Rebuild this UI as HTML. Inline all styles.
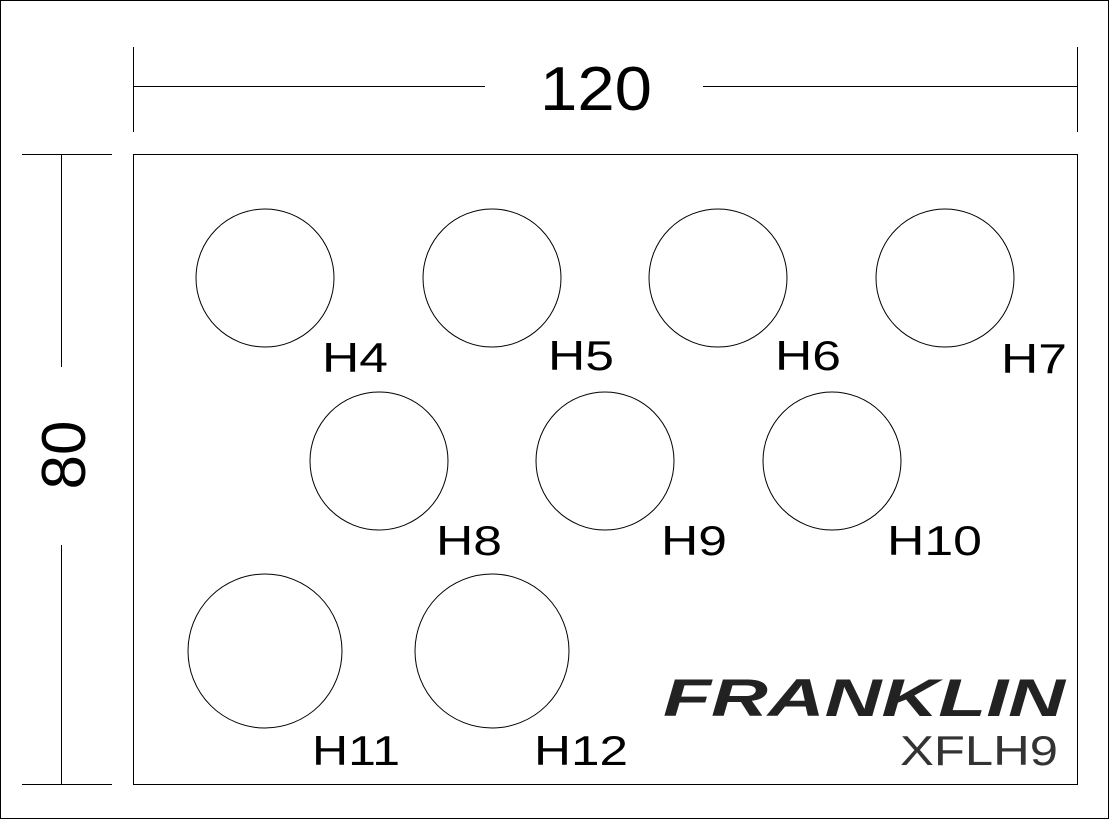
<!DOCTYPE html>
<html><head><meta charset="utf-8"><style>
html,body{margin:0;padding:0;background:#fff;}
svg{display:block}
</style></head><body>
<svg width="1109" height="819" viewBox="0 0 1109 819" xmlns="http://www.w3.org/2000/svg">
<rect x="0.5" y="0.5" width="1108" height="818" fill="#fff" stroke="#000" stroke-width="1"/>
<g stroke="#000" stroke-width="1" fill="none">
<line x1="133.5" y1="47" x2="133.5" y2="132"/>
<line x1="1077.5" y1="47" x2="1077.5" y2="132"/>
<line x1="133" y1="86.5" x2="485" y2="86.5"/>
<line x1="703" y1="86.5" x2="1077" y2="86.5"/>
<line x1="22" y1="154.5" x2="112" y2="154.5"/>
<line x1="22" y1="784.5" x2="112" y2="784.5"/>
<line x1="61.5" y1="154" x2="61.5" y2="367"/>
<line x1="61.5" y1="545" x2="61.5" y2="784"/>
<rect x="133.5" y="154.5" width="944" height="630"/>
<circle cx="265" cy="278" r="69"/>
<circle cx="492" cy="278" r="69"/>
<circle cx="718" cy="278" r="69"/>
<circle cx="945" cy="278" r="69"/>
<circle cx="379" cy="461" r="69"/>
<circle cx="605" cy="461" r="69"/>
<circle cx="832" cy="461" r="69"/>
<circle cx="265" cy="651" r="77"/>
<circle cx="492" cy="651" r="77"/>
</g>
<g font-family="Liberation Sans, sans-serif" fill="#000" lengthAdjust="spacingAndGlyphs">
<text x="540" y="110" font-size="62" textLength="112" lengthAdjust="spacingAndGlyphs">120</text>
<text transform="translate(85,455) rotate(-90)" font-size="62" text-anchor="middle">80</text>
<g font-size="42">
<text x="322" y="372" textLength="66" lengthAdjust="spacingAndGlyphs">H4</text>
<text x="548" y="370" textLength="66" lengthAdjust="spacingAndGlyphs">H5</text>
<text x="775" y="370" textLength="66" lengthAdjust="spacingAndGlyphs">H6</text>
<text x="1001" y="373" textLength="66" lengthAdjust="spacingAndGlyphs">H7</text>
<text x="436" y="555" textLength="66" lengthAdjust="spacingAndGlyphs">H8</text>
<text x="661" y="555" textLength="66" lengthAdjust="spacingAndGlyphs">H9</text>
<text x="887" y="555" textLength="95" lengthAdjust="spacingAndGlyphs">H10</text>
<text x="312" y="765" textLength="88" lengthAdjust="spacingAndGlyphs">H11</text>
<text x="534" y="765" textLength="94" lengthAdjust="spacingAndGlyphs">H12</text>
<text x="900" y="765" fill="#333" textLength="158" lengthAdjust="spacingAndGlyphs">XFLH9</text>
</g>
<text x="663" y="716" font-size="53" font-weight="bold" font-style="italic" textLength="402" lengthAdjust="spacingAndGlyphs" fill="#222">FRANKLIN</text>
</g>
</svg>
</body></html>
